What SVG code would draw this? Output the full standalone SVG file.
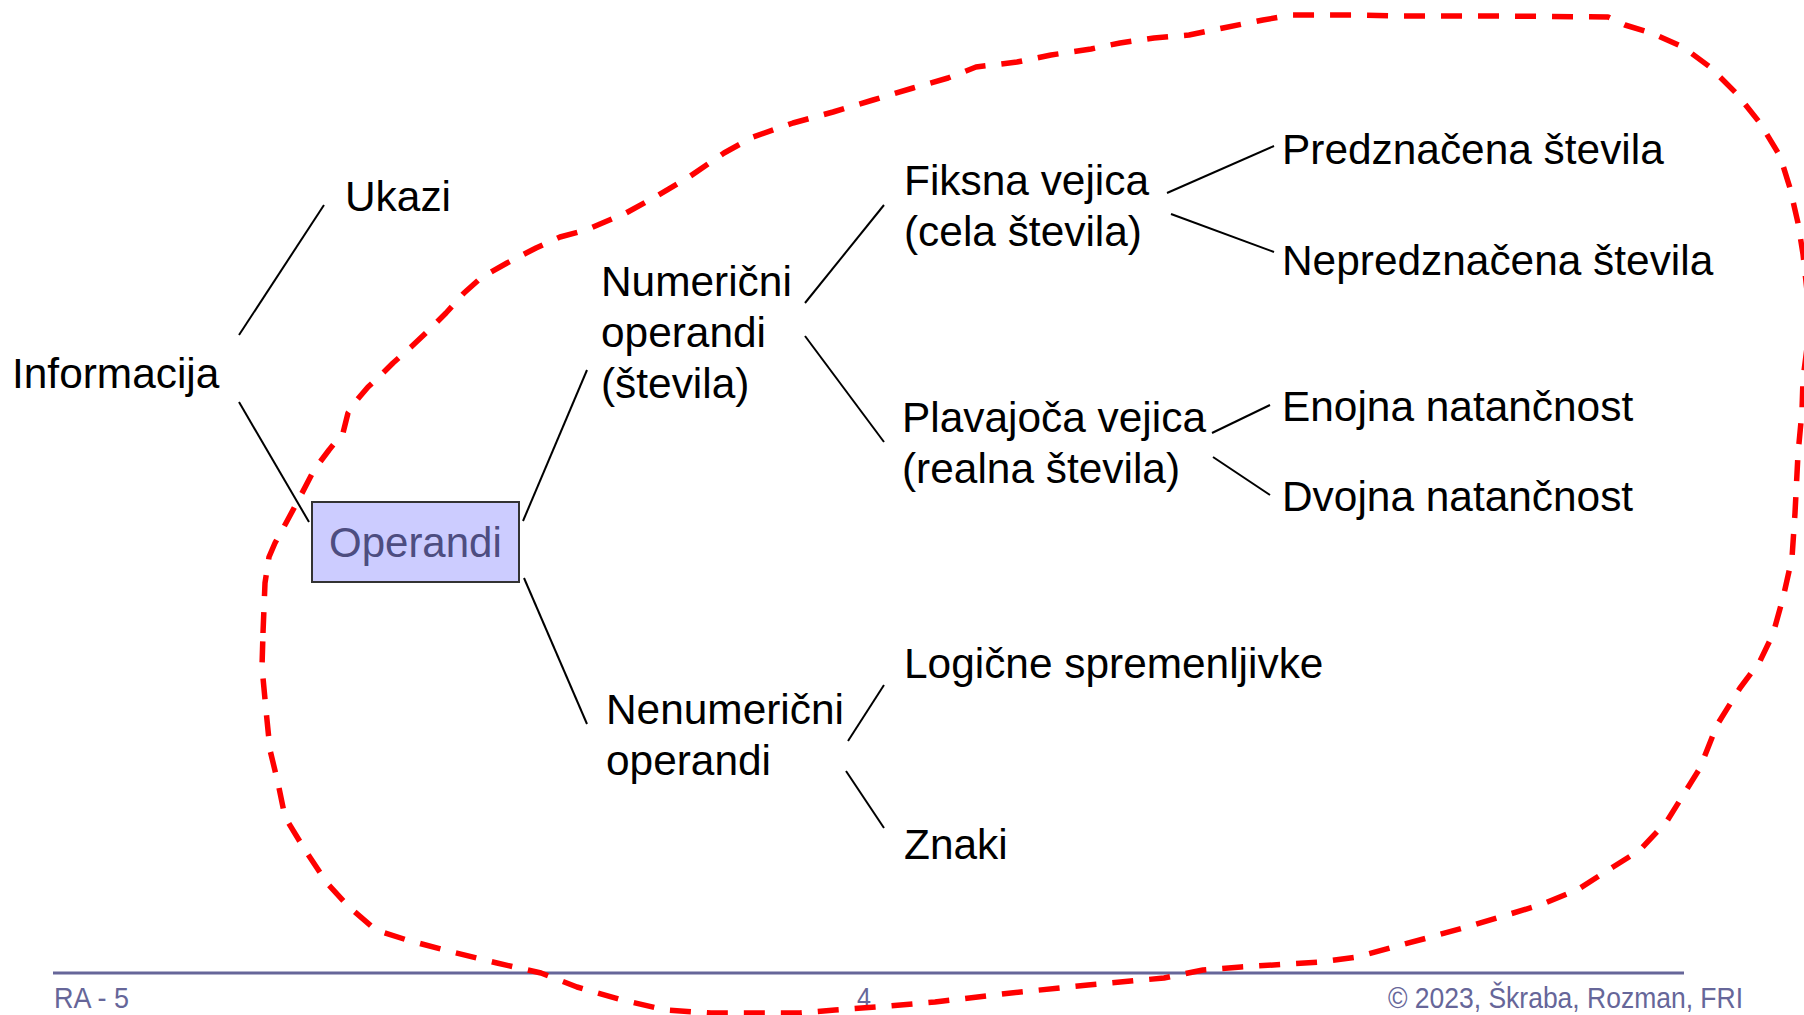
<svg xmlns="http://www.w3.org/2000/svg" width="1804" height="1015" viewBox="0 0 1804 1015">
<style>
  .t { font-family: "Liberation Sans", Arial, sans-serif; font-size: 42.4px; fill: #000; }
  .op { font-family: "Liberation Sans", Arial, sans-serif; font-size: 42px; fill: #4d4d80; }
  .ft { font-family: "Liberation Sans", Arial, sans-serif; font-size: 29px; fill: #666699; }
  .c { stroke: #000; stroke-width: 2; fill: none; }
  .hull { stroke: #ff0000; stroke-width: 5.5; fill: none; stroke-dasharray: 21 16; stroke-linejoin: round; }
</style>
<rect width="1804" height="1015" fill="#ffffff"/>

<g id="connectors">
  <line class="c" x1="239" y1="335" x2="324" y2="205"/>
  <line class="c" x1="239" y1="402" x2="309" y2="522"/>
  <line class="c" x1="523" y1="521" x2="587" y2="370"/>
  <line class="c" x1="524" y1="578" x2="587" y2="724"/>
  <line class="c" x1="805" y1="303" x2="884" y2="205"/>
  <line class="c" x1="805" y1="336" x2="884" y2="442"/>
  <line class="c" x1="1167" y1="193" x2="1274" y2="146"/>
  <line class="c" x1="1171" y1="214" x2="1274" y2="252"/>
  <line class="c" x1="1212" y1="433" x2="1270" y2="405"/>
  <line class="c" x1="1213" y1="457" x2="1270" y2="495"/>
  <line class="c" x1="848" y1="741" x2="884" y2="685"/>
  <line class="c" x1="846" y1="771" x2="884" y2="828"/>
</g>

<g id="n-informacija"><text class="t" x="12" y="388">Informacija</text></g>
<g id="n-ukazi"><text class="t" x="345" y="211">Ukazi</text></g>
<g id="n-operandi">
  <rect x="312" y="502" width="207" height="80" fill="#ccccff" stroke="#333333" stroke-width="2"/>
  <text class="op" x="329" y="557">Operandi</text>
</g>
<g id="n-numericni">
  <text class="t" x="601" y="296">Numerični</text>
  <text class="t" x="601" y="347">operandi</text>
  <text class="t" x="601" y="398">(števila)</text>
</g>
<g id="n-nenumericni">
  <text class="t" x="606" y="724">Nenumerični</text>
  <text class="t" x="606" y="775">operandi</text>
</g>
<g id="n-fiksna">
  <text class="t" x="904" y="195">Fiksna vejica</text>
  <text class="t" x="904" y="246">(cela števila)</text>
</g>
<g id="n-plavajoca">
  <text class="t" x="902" y="432">Plavajoča vejica</text>
  <text class="t" x="902" y="483">(realna števila)</text>
</g>
<g id="n-predznacena"><text class="t" x="1282" y="164">Predznačena števila</text></g>
<g id="n-nepredznacena"><text class="t" x="1282" y="275">Nepredznačena števila</text></g>
<g id="n-enojna"><text class="t" x="1282" y="421">Enojna natančnost</text></g>
<g id="n-dvojna"><text class="t" x="1282" y="511">Dvojna natančnost</text></g>
<g id="n-logicne"><text class="t" x="904" y="678">Logične spremenljivke</text></g>
<g id="n-znaki"><text class="t" x="904" y="859">Znaki</text></g>

<g id="footer">
  <line x1="53" y1="973" x2="1684" y2="973" stroke="#666699" stroke-width="3"/>
  <text class="ft" x="54" y="1008" textLength="75" lengthAdjust="spacingAndGlyphs">RA - 5</text>
  <text class="ft" x="857" y="1008" textLength="14" lengthAdjust="spacingAndGlyphs">4</text>
  <text class="ft" x="1388" y="1008" textLength="355" lengthAdjust="spacingAndGlyphs">© 2023, Škraba, Rozman, FRI</text>
</g>

<g id="hull">
  <path class="hull" d="M263,633 L265,583 L269,557 L275,543 L286,523 L300,497 L314,470 L329,450 L343,433 L348,413 L357,400 L368,387 L379,377 L393,363 L411,347 L429,330 L446,313 L464,293 L482,277 L507,263 L536,248 L560,237 L586,230 L626,213 L655,197 L689,177 L724,153 L753,137 L793,123 L833,112 L873,100 L913,88 L948,78 L976,67 L1017,62 L1051,55 L1091,49 L1120,43 L1154,38 L1189,35 L1223,28 L1263,20 L1292,15 L1361,15 L1400,16 L1500,16 L1608,17 L1625,25 L1654,34 L1683,47 L1710,67 L1737,94 L1760,123 L1780,156 L1790,188 L1798,223 L1803,254 L1808,300 L1808,340 L1803,379 L1802,411 L1798,454 L1795,513 L1792,558 L1783,598 L1773,634 L1760,661 L1740,688 L1717,725 L1700,768 L1687,789 L1667,821 L1640,850 L1613,867 L1577,890 L1540,905 L1500,917 L1463,928 L1427,938 L1390,948 L1357,957 L1320,962 L1241,967 L1203,970 L1164,978 L1088,985 L1011,993 L935,1002 L877,1007 L835,1010 L800,1013 L711,1013 L666,1010 L622,1000 L577,987 L541,973 L497,963 L452,952 L407,940 L376,930 L349,907 L327,883 L305,850 L285,817 L278,783 L270,750 L266,710 L262,667 Z"/>
</g>
</svg>
